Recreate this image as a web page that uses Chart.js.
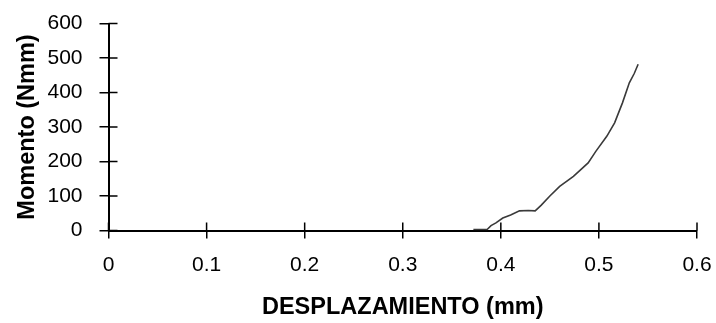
<!DOCTYPE html>
<html>
<head>
<meta charset="utf-8">
<script src="https://cdn.jsdelivr.net/npm/chart.js@4/dist/chart.umd.min.js"></script>
<style>
  html, body { margin: 0; padding: 0; background: #fff; }
  canvas { display: block; }
</style>
</head>
<body>
<canvas id="momentChart" width="716" height="323"></canvas>
<script>
// Data
const desplazamiento = [0.372, 0.386, 0.390, 0.395, 0.402, 0.410, 0.419, 0.428, 0.435, 0.441,
                        0.450, 0.460, 0.474, 0.489, 0.497, 0.508, 0.516, 0.524, 0.531, 0.536, 0.540];
const momento = [3, 3, 14, 22, 36, 45, 57, 58, 57, 73,
                 100, 128, 157, 196, 230, 273, 312, 370, 428, 455, 482];
const xTicks = [0, 0.1, 0.2, 0.3, 0.4, 0.5, 0.6];
const yTicks = [0, 100, 200, 300, 400, 500, 600];

const points = desplazamiento.map((x, i) => ({ x: x, y: momento[i] }));

// short marks on the inner side of the axes (ticks cross the axis line)
const innerTicks = {
  id: 'innerTicks',
  afterDraw(chart) {
    const ctx = chart.ctx;
    const area = chart.chartArea;
    const xs = chart.scales.x;
    const ys = chart.scales.y;
    ctx.save();
    ctx.strokeStyle = '#000';
    ctx.lineWidth = 1.5;
    ctx.beginPath();
    xs.ticks.forEach(t => {
      const px = xs.getPixelForValue(t.value);
      ctx.moveTo(px, area.bottom);
      ctx.lineTo(px, area.bottom - 8);
    });
    ys.ticks.forEach(t => {
      const py = ys.getPixelForValue(t.value);
      ctx.moveTo(area.left, py);
      ctx.lineTo(area.left + 9, py);
    });
    ctx.stroke();
    ctx.restore();
  }
};

const tickFont = { family: "'Liberation Sans', Arial, sans-serif", size: 21 };
const titleFont = { family: "'Liberation Sans', Arial, sans-serif", size: 23.5, weight: 'bold', lineHeight: 1.2 };

new Chart(document.getElementById('momentChart'), {
  type: 'scatter',
  data: {
    datasets: [{
      label: 'Momento',
      data: points,
      showLine: true,
      borderColor: '#3a3a3a',
      borderWidth: 1.6,
      pointRadius: 0,
      tension: 0,
    }],
  },
  options: {
    responsive: false,
    animation: false,
    devicePixelRatio: 1,
    layout: { padding: { left: 0, right: 19, top: 23.5, bottom: 0 } },
    plugins: {
      legend: { display: false },
      tooltip: { enabled: false },
    },
    scales: {
      x: {
        type: 'linear',
        min: 0,
        max: 0.6,
        afterBuildTicks: s => { s.ticks = xTicks.map(v => ({ value: v })); },
        afterFit: s => { s.height = 92.5; s.paddingLeft = 0; s.paddingRight = 0; },
        ticks: {
          color: '#000',
          font: tickFont,
          padding: 14,
          maxRotation: 0,
          callback: v => String(v),
        },
        grid: { drawOnChartArea: false, drawTicks: true, tickLength: 8, color: '#000', lineWidth: 1.5 },
        border: { display: true, color: '#000', width: 2 },
        title: {
          display: true,
          text: 'DESPLAZAMIENTO (mm)',
          color: '#000',
          font: titleFont,
          padding: { top: 0, bottom: 1 },
        },
      },
      y: {
        type: 'linear',
        min: 0,
        max: 600,
        afterBuildTicks: s => { s.ticks = yTicks.map(v => ({ value: v })); },
        afterFit: s => { s.width = 108.5; s.paddingTop = 0; s.paddingBottom = 0; },
        ticks: {
          color: '#000',
          font: tickFont,
          padding: 17,
        },
        grid: { drawOnChartArea: false, drawTicks: true, tickLength: 9, color: '#000', lineWidth: 1.5 },
        border: { display: true, color: '#000', width: 2 },
        title: {
          display: true,
          text: 'Momento (Nmm)',
          color: '#000',
          font: titleFont,
          padding: { top: 13, bottom: 0 },
        },
      },
    },
  },
  plugins: [innerTicks],
});
</script>
</body>
</html>
